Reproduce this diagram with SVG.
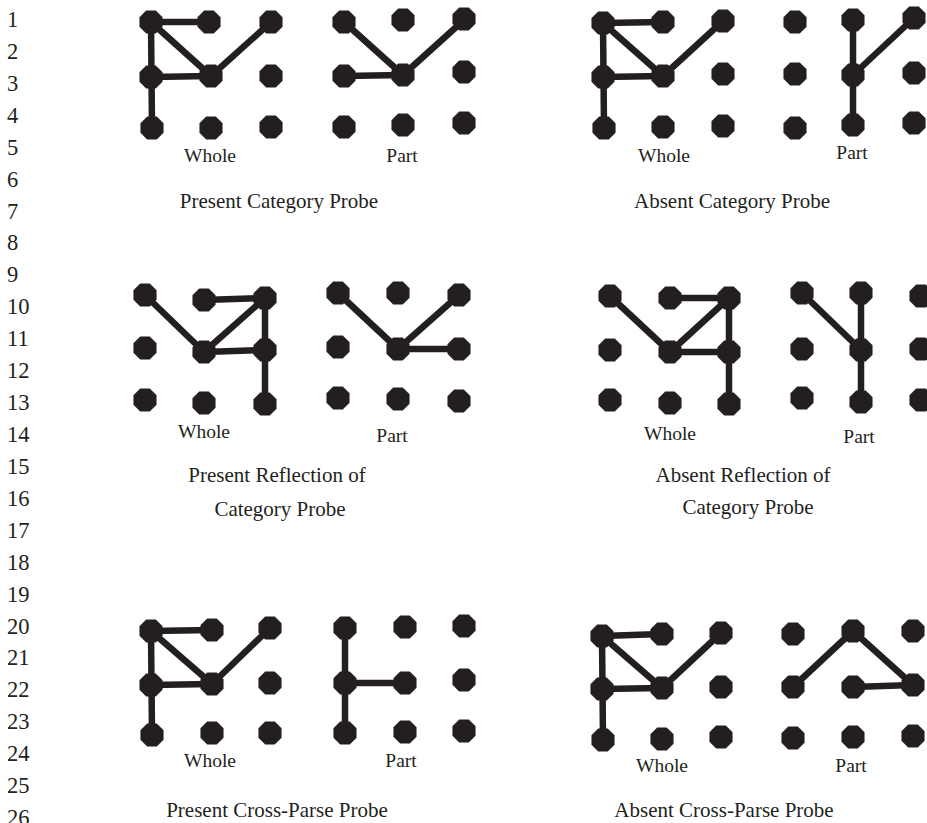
<svg xmlns="http://www.w3.org/2000/svg" xmlns:xlink="http://www.w3.org/1999/xlink" width="927" height="823" viewBox="0 0 927 823">
<defs>
<style>
.ln{font-family:"Liberation Serif","Times New Roman",serif;font-size:22.5px;fill:#231f20}
.lbl{font-family:"Liberation Serif","Times New Roman",serif;font-size:19.5px;fill:#231f20;text-anchor:middle}
.ttl{font-family:"Liberation Serif","Times New Roman",serif;font-size:21px;fill:#231f20;text-anchor:middle}
.edges line{stroke:#231f20;stroke-width:6.5;stroke-linecap:butt}
.dot{fill:#231f20}
</style>
<polygon id="d" class="dot" points="11.55,4.78 4.78,11.55 -4.78,11.55 -11.55,4.78 -11.55,-4.78 -4.78,-11.55 4.78,-11.55 11.55,-4.78"/>
</defs>
<rect width="927" height="823" fill="#ffffff"/>

<g id="line-numbers" class="ln">
<text x="7" y="27">1</text>
<text x="7" y="58.9">2</text>
<text x="7" y="90.8">3</text>
<text x="7" y="122.8">4</text>
<text x="7" y="154.7">5</text>
<text x="7" y="186.6">6</text>
<text x="7" y="218.5">7</text>
<text x="7" y="250.4">8</text>
<text x="7" y="282.4">9</text>
<text x="7" y="314.3">10</text>
<text x="7" y="346.2">11</text>
<text x="7" y="378.1">12</text>
<text x="7" y="410">13</text>
<text x="7" y="442">14</text>
<text x="7" y="473.9">15</text>
<text x="7" y="505.8">16</text>
<text x="7" y="537.7">17</text>
<text x="7" y="569.6">18</text>
<text x="7" y="601.6">19</text>
<text x="7" y="633.5">20</text>
<text x="7" y="665.4">21</text>
<text x="7" y="697.3">22</text>
<text x="7" y="729.2">23</text>
<text x="7" y="761.2">24</text>
<text x="7" y="793.1">25</text>
<text x="7" y="825">26</text>
</g>

<g id="connectors" class="edges">
<!-- Panel A whole -->
<line x1="151" y1="22" x2="209" y2="22"/>
<line x1="151" y1="22" x2="152" y2="128"/>
<line x1="151" y1="22" x2="211" y2="76"/>
<line x1="151" y1="77" x2="211" y2="76"/>
<line x1="211" y1="76" x2="271" y2="22"/>
<!-- Panel A part -->
<line x1="344" y1="22" x2="403" y2="75"/>
<line x1="344" y1="76" x2="403" y2="75"/>
<line x1="403" y1="75" x2="464" y2="20"/>
<!-- Panel B whole -->
<line x1="603" y1="23" x2="663" y2="22"/>
<line x1="603" y1="23" x2="604" y2="128"/>
<line x1="603" y1="23" x2="663" y2="76"/>
<line x1="603" y1="77" x2="663" y2="76"/>
<line x1="663" y1="76" x2="723" y2="21"/>
<!-- Panel B part -->
<line x1="853" y1="20" x2="853" y2="125"/>
<line x1="853" y1="75" x2="914" y2="18"/>
<!-- Panel C whole -->
<line x1="145" y1="295" x2="204" y2="352"/>
<line x1="204" y1="300" x2="265" y2="298"/>
<line x1="265" y1="298" x2="204" y2="352"/>
<line x1="204" y1="352" x2="265" y2="350"/>
<line x1="265" y1="298" x2="265" y2="404"/>
<!-- Panel C part -->
<line x1="338" y1="293" x2="398" y2="349"/>
<line x1="398" y1="349" x2="459" y2="295"/>
<line x1="398" y1="349" x2="459" y2="349"/>
<!-- Panel D whole -->
<line x1="610" y1="296" x2="670" y2="352"/>
<line x1="670" y1="298" x2="729" y2="298"/>
<line x1="729" y1="298" x2="670" y2="352"/>
<line x1="670" y1="352" x2="729" y2="352"/>
<line x1="729" y1="298" x2="729" y2="404"/>
<!-- Panel D part -->
<line x1="802" y1="293" x2="861" y2="350"/>
<line x1="861" y1="293" x2="861" y2="402"/>
<!-- Panel E whole -->
<line x1="151" y1="631" x2="212" y2="630"/>
<line x1="151" y1="631" x2="152" y2="735"/>
<line x1="151" y1="631" x2="212" y2="684"/>
<line x1="151" y1="685" x2="212" y2="684"/>
<line x1="212" y1="684" x2="270" y2="628"/>
<!-- Panel E part -->
<line x1="345" y1="628" x2="345" y2="733"/>
<line x1="345" y1="683" x2="405" y2="683"/>
<!-- Panel F whole -->
<line x1="602" y1="636" x2="662" y2="634"/>
<line x1="602" y1="636" x2="603" y2="740"/>
<line x1="602" y1="636" x2="662" y2="688"/>
<line x1="602" y1="689" x2="662" y2="688"/>
<line x1="662" y1="688" x2="721" y2="633"/>
<!-- Panel F part -->
<line x1="793" y1="687" x2="853" y2="631"/>
<line x1="853" y1="631" x2="913" y2="685"/>
<line x1="853" y1="687" x2="913" y2="685"/>
</g>

<g id="panel-present-category">
<g id="pc-whole">
<use id="pcw1" href="#d" xlink:href="#d" x="151" y="22"/>
<use id="pcw2" href="#d" xlink:href="#d" x="209" y="22"/>
<use id="pcw3" href="#d" xlink:href="#d" x="271" y="22"/>
<use id="pcw4" href="#d" xlink:href="#d" x="151" y="77"/>
<use id="pcw5" href="#d" xlink:href="#d" x="211" y="76"/>
<use id="pcw6" href="#d" xlink:href="#d" x="271" y="76"/>
<use id="pcw7" href="#d" xlink:href="#d" x="152" y="128"/>
<use id="pcw8" href="#d" xlink:href="#d" x="211" y="128"/>
<use id="pcw9" href="#d" xlink:href="#d" x="271" y="127"/>
</g>
<g id="pc-part">
<use id="pcp1" href="#d" xlink:href="#d" x="344" y="22"/>
<use id="pcp2" href="#d" xlink:href="#d" x="403" y="20"/>
<use id="pcp3" href="#d" xlink:href="#d" x="464" y="19"/>
<use id="pcp4" href="#d" xlink:href="#d" x="344" y="76"/>
<use id="pcp5" href="#d" xlink:href="#d" x="403" y="75"/>
<use id="pcp6" href="#d" xlink:href="#d" x="464" y="72"/>
<use id="pcp7" href="#d" xlink:href="#d" x="344" y="127"/>
<use id="pcp8" href="#d" xlink:href="#d" x="403" y="125"/>
<use id="pcp9" href="#d" xlink:href="#d" x="464" y="123"/>
</g>
<text class="lbl" x="210" y="162">Whole</text>
<text class="lbl" x="402" y="162">Part</text>
<text class="ttl" x="279" y="208">Present Category Probe</text>
</g>

<g id="panel-absent-category">
<g id="ac-whole">
<use id="acw1" href="#d" xlink:href="#d" x="603" y="23"/>
<use id="acw2" href="#d" xlink:href="#d" x="663" y="22"/>
<use id="acw3" href="#d" xlink:href="#d" x="723" y="21"/>
<use id="acw4" href="#d" xlink:href="#d" x="603" y="77"/>
<use id="acw5" href="#d" xlink:href="#d" x="663" y="76"/>
<use id="acw6" href="#d" xlink:href="#d" x="723" y="74"/>
<use id="acw7" href="#d" xlink:href="#d" x="604" y="128"/>
<use id="acw8" href="#d" xlink:href="#d" x="663" y="127"/>
<use id="acw9" href="#d" xlink:href="#d" x="723" y="126"/>
</g>
<g id="ac-part">
<use id="acp1" href="#d" xlink:href="#d" x="795" y="22"/>
<use id="acp2" href="#d" xlink:href="#d" x="853" y="20"/>
<use id="acp3" href="#d" xlink:href="#d" x="914" y="18"/>
<use id="acp4" href="#d" xlink:href="#d" x="795" y="74"/>
<use id="acp5" href="#d" xlink:href="#d" x="853" y="75"/>
<use id="acp6" href="#d" xlink:href="#d" x="914" y="73"/>
<use id="acp7" href="#d" xlink:href="#d" x="795" y="128"/>
<use id="acp8" href="#d" xlink:href="#d" x="853" y="125"/>
<use id="acp9" href="#d" xlink:href="#d" x="914" y="123"/>
</g>
<text class="lbl" x="664" y="162">Whole</text>
<text class="lbl" x="852" y="159">Part</text>
<text class="ttl" x="732" y="208">Absent Category Probe</text>
</g>

<g id="panel-present-reflection">
<g id="pr-whole">
<use id="prw1" href="#d" xlink:href="#d" x="145" y="295"/>
<use id="prw2" href="#d" xlink:href="#d" x="204" y="300"/>
<use id="prw3" href="#d" xlink:href="#d" x="265" y="298"/>
<use id="prw4" href="#d" xlink:href="#d" x="145" y="348"/>
<use id="prw5" href="#d" xlink:href="#d" x="204" y="352"/>
<use id="prw6" href="#d" xlink:href="#d" x="265" y="350"/>
<use id="prw7" href="#d" xlink:href="#d" x="145" y="400"/>
<use id="prw8" href="#d" xlink:href="#d" x="204" y="403"/>
<use id="prw9" href="#d" xlink:href="#d" x="265" y="404"/>
</g>
<g id="pr-part">
<use id="prp1" href="#d" xlink:href="#d" x="338" y="293"/>
<use id="prp2" href="#d" xlink:href="#d" x="398" y="293"/>
<use id="prp3" href="#d" xlink:href="#d" x="459" y="295"/>
<use id="prp4" href="#d" xlink:href="#d" x="338" y="347"/>
<use id="prp5" href="#d" xlink:href="#d" x="398" y="349"/>
<use id="prp6" href="#d" xlink:href="#d" x="459" y="349"/>
<use id="prp7" href="#d" xlink:href="#d" x="338" y="398"/>
<use id="prp8" href="#d" xlink:href="#d" x="398" y="399"/>
<use id="prp9" href="#d" xlink:href="#d" x="459" y="401"/>
</g>
<text class="lbl" x="204" y="438">Whole</text>
<text class="lbl" x="392" y="442">Part</text>
<text class="ttl" x="277" y="482">Present Reflection of</text>
<text class="ttl" x="280" y="516">Category Probe</text>
</g>

<g id="panel-absent-reflection">
<g id="ar-whole">
<use id="arw1" href="#d" xlink:href="#d" x="610" y="296"/>
<use id="arw2" href="#d" xlink:href="#d" x="670" y="298"/>
<use id="arw3" href="#d" xlink:href="#d" x="729" y="298"/>
<use id="arw4" href="#d" xlink:href="#d" x="610" y="350"/>
<use id="arw5" href="#d" xlink:href="#d" x="670" y="352"/>
<use id="arw6" href="#d" xlink:href="#d" x="729" y="352"/>
<use id="arw7" href="#d" xlink:href="#d" x="610" y="400"/>
<use id="arw8" href="#d" xlink:href="#d" x="670" y="403"/>
<use id="arw9" href="#d" xlink:href="#d" x="729" y="404"/>
</g>
<g id="ar-part">
<use id="arp1" href="#d" xlink:href="#d" x="802" y="293"/>
<use id="arp2" href="#d" xlink:href="#d" x="861" y="293"/>
<use id="arp3" href="#d" xlink:href="#d" x="921" y="296"/>
<use id="arp4" href="#d" xlink:href="#d" x="802" y="349"/>
<use id="arp5" href="#d" xlink:href="#d" x="861" y="350"/>
<use id="arp6" href="#d" xlink:href="#d" x="921" y="349"/>
<use id="arp7" href="#d" xlink:href="#d" x="802" y="398"/>
<use id="arp8" href="#d" xlink:href="#d" x="861" y="402"/>
<use id="arp9" href="#d" xlink:href="#d" x="921" y="400"/>
</g>
<text class="lbl" x="670" y="440">Whole</text>
<text class="lbl" x="859" y="443">Part</text>
<text class="ttl" x="743" y="482">Absent Reflection of</text>
<text class="ttl" x="748" y="514">Category Probe</text>
</g>

<g id="panel-present-crossparse">
<g id="px-whole">
<use id="pxw1" href="#d" xlink:href="#d" x="151" y="631"/>
<use id="pxw2" href="#d" xlink:href="#d" x="212" y="630"/>
<use id="pxw3" href="#d" xlink:href="#d" x="270" y="628"/>
<use id="pxw4" href="#d" xlink:href="#d" x="151" y="685"/>
<use id="pxw5" href="#d" xlink:href="#d" x="212" y="684"/>
<use id="pxw6" href="#d" xlink:href="#d" x="270" y="683"/>
<use id="pxw7" href="#d" xlink:href="#d" x="152" y="735"/>
<use id="pxw8" href="#d" xlink:href="#d" x="212" y="733"/>
<use id="pxw9" href="#d" xlink:href="#d" x="270" y="733"/>
</g>
<g id="px-part">
<use id="pxp1" href="#d" xlink:href="#d" x="345" y="628"/>
<use id="pxp2" href="#d" xlink:href="#d" x="405" y="627"/>
<use id="pxp3" href="#d" xlink:href="#d" x="464" y="626"/>
<use id="pxp4" href="#d" xlink:href="#d" x="345" y="683"/>
<use id="pxp5" href="#d" xlink:href="#d" x="405" y="683"/>
<use id="pxp6" href="#d" xlink:href="#d" x="464" y="680"/>
<use id="pxp7" href="#d" xlink:href="#d" x="345" y="733"/>
<use id="pxp8" href="#d" xlink:href="#d" x="405" y="732"/>
<use id="pxp9" href="#d" xlink:href="#d" x="464" y="731"/>
</g>
<text class="lbl" x="210" y="767">Whole</text>
<text class="lbl" x="401" y="767">Part</text>
<text class="ttl" x="277" y="817">Present Cross-Parse Probe</text>
</g>

<g id="panel-absent-crossparse">
<g id="ax-whole">
<use id="axw1" href="#d" xlink:href="#d" x="602" y="636"/>
<use id="axw2" href="#d" xlink:href="#d" x="662" y="634"/>
<use id="axw3" href="#d" xlink:href="#d" x="721" y="633"/>
<use id="axw4" href="#d" xlink:href="#d" x="602" y="689"/>
<use id="axw5" href="#d" xlink:href="#d" x="662" y="688"/>
<use id="axw6" href="#d" xlink:href="#d" x="721" y="687"/>
<use id="axw7" href="#d" xlink:href="#d" x="603" y="740"/>
<use id="axw8" href="#d" xlink:href="#d" x="662" y="739"/>
<use id="axw9" href="#d" xlink:href="#d" x="721" y="737"/>
</g>
<g id="ax-part">
<use id="axp1" href="#d" xlink:href="#d" x="793" y="634"/>
<use id="axp2" href="#d" xlink:href="#d" x="853" y="631"/>
<use id="axp3" href="#d" xlink:href="#d" x="913" y="631"/>
<use id="axp4" href="#d" xlink:href="#d" x="793" y="687"/>
<use id="axp5" href="#d" xlink:href="#d" x="853" y="687"/>
<use id="axp6" href="#d" xlink:href="#d" x="913" y="685"/>
<use id="axp7" href="#d" xlink:href="#d" x="793" y="738"/>
<use id="axp8" href="#d" xlink:href="#d" x="853" y="737"/>
<use id="axp9" href="#d" xlink:href="#d" x="913" y="736"/>
</g>
<text class="lbl" x="662" y="772">Whole</text>
<text class="lbl" x="851" y="772">Part</text>
<text class="ttl" x="724" y="817">Absent Cross-Parse Probe</text>
</g>
</svg>
